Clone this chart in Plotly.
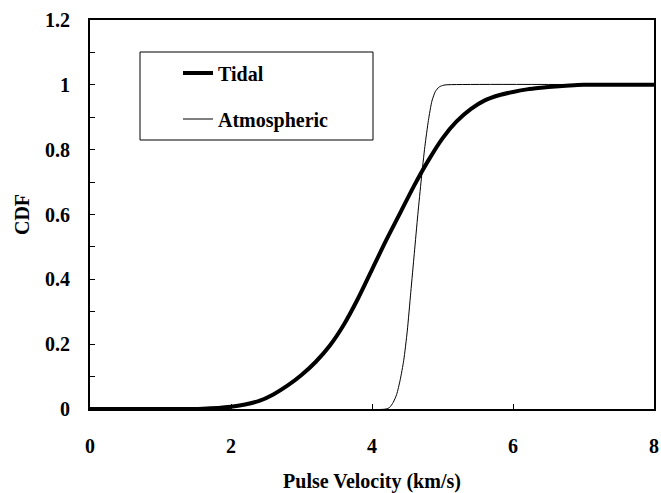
import plotly.graph_objects as go

# Data
tidal_x = [0, 1.0, 1.6, 2.0, 2.2, 2.4, 2.6, 2.8, 3.0, 3.2, 3.4, 3.6, 3.8, 4.0, 4.2, 4.4,
           4.6, 4.8, 5.0, 5.2, 5.4, 5.6, 5.8, 6.0, 6.2, 6.4, 6.6, 6.8, 7.0, 8.0]
tidal_y = [0, 0, 0.001, 0.007, 0.014, 0.025, 0.045, 0.072, 0.105, 0.145, 0.195, 0.26, 0.34,
           0.43, 0.52, 0.605, 0.69, 0.767, 0.835, 0.887, 0.925, 0.952, 0.968, 0.978, 0.986,
           0.991, 0.995, 0.998, 1.0, 1.0]

atm_x = [0, 4.2, 4.25, 4.3, 4.35, 4.4, 4.45, 4.5, 4.55, 4.6, 4.65, 4.7, 4.75, 4.8, 4.85,
         4.9, 4.95, 5.0, 5.05, 8.0]
atm_y = [0, 0, 0.005, 0.02, 0.045, 0.09, 0.15, 0.24, 0.36, 0.48, 0.60, 0.71, 0.81, 0.89,
         0.95, 0.98, 0.993, 0.998, 1.0, 1.0]

series_names = ["Tidal", "Atmospheric"]
x_title = "Pulse Velocity (km/s)"
y_title = "CDF"

FONT = "Liberation Serif, Times New Roman, serif"
BOLD = dict(family=FONT, size=20, color="black", weight="bold")

fig = go.Figure()
fig.add_trace(go.Scatter(x=tidal_x, y=tidal_y, mode="lines", name=series_names[0],
                         line=dict(color="black", width=4, shape="spline", smoothing=0.8),
                         legend="legend", showlegend=True))
fig.add_trace(go.Scatter(x=atm_x, y=atm_y, mode="lines", name=series_names[1],
                         line=dict(color="black", width=1, shape="spline", smoothing=0.6),
                         legend="legend2", showlegend=True))

axis_common = dict(showline=True, linecolor="black", linewidth=2, mirror=True,
                   ticks="inside", ticklen=5, tickcolor="black", tickwidth=1,
                   showgrid=False, zeroline=False, tickfont=BOLD, automargin=False)

fig.update_xaxes(range=[0, 8], dtick=2, tick0=0, ticklabelstandoff=18,
                 title=dict(text=x_title, standoff=27, font=BOLD),
                 **axis_common)
fig.update_yaxes(range=[0, 1.2], dtick=0.2, tick0=0, ticklabelstandoff=14,
                 minor=dict(dtick=0.1, ticks="inside", ticklen=5, tickcolor="black"),
                 title=dict(text=y_title, standoff=10, font=BOLD),
                 **axis_common)

# legend frame
fig.add_shape(type="rect", xref="paper", yref="paper",
              x0=(140 - 90) / 564, x1=(373 - 90) / 564,
              y0=(409 - 140) / 389, y1=(409 - 52) / 389,
              line=dict(color="black", width=1), fillcolor="rgba(0,0,0,0)")

leg_common = dict(bgcolor="rgba(0,0,0,0)", borderwidth=0, font=BOLD,
                  xanchor="left", yanchor="middle", itemwidth=30)
fig.update_layout(
    width=661, height=493,
    margin=dict(l=90, r=7, t=20, b=84, autoexpand=False),
    paper_bgcolor="white", plot_bgcolor="white",
    font=dict(family=FONT, size=20, color="black"),
    legend=dict(x=(178 - 90) / 564, y=(409 - 73) / 389, **leg_common),
    legend2=dict(x=(178 - 90) / 564, y=(409 - 119) / 389, **leg_common),
)

fig.write_html("out.html")
